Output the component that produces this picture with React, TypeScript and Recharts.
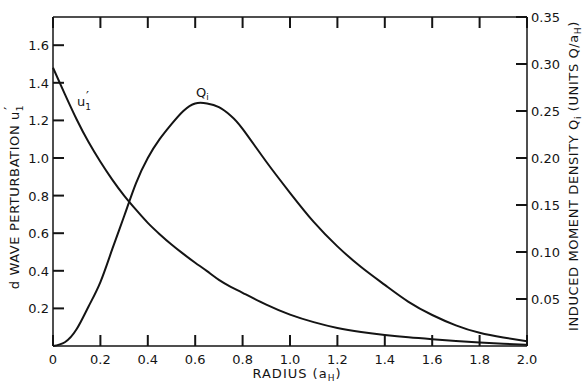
import { ComposedChart, Line, XAxis, YAxis } from 'recharts';

const radius = [0, 0.05, 0.1, 0.15, 0.2, 0.25, 0.3, 0.35, 0.4, 0.45, 0.5, 0.55, 0.6, 0.65, 0.7, 0.75, 0.8, 0.9, 1.0, 1.1, 1.2, 1.3, 1.4, 1.5, 1.6, 1.7, 1.8, 1.9, 2.0];
const uPerturbation = [1.48, 1.34, 1.205, 1.085, 0.98, 0.885, 0.8, 0.725, 0.655, 0.595, 0.54, 0.49, 0.443, 0.398, 0.352, 0.315, 0.283, 0.22, 0.167, 0.127, 0.096, 0.075, 0.059, 0.046, 0.036, 0.027, 0.019, 0.012, 0.006];
const qDensity = [0, 0.004, 0.018, 0.042, 0.068, 0.103, 0.138, 0.173, 0.2, 0.22, 0.236, 0.25, 0.258, 0.258, 0.254, 0.245, 0.231, 0.196, 0.163, 0.132, 0.106, 0.084, 0.065, 0.047, 0.033, 0.022, 0.014, 0.009, 0.005];

const xTicks = [0, 0.2, 0.4, 0.6, 0.8, 1.0, 1.2, 1.4, 1.6, 1.8, 2.0];
const leftTicks = [0.2, 0.4, 0.6, 0.8, 1.0, 1.2, 1.4, 1.6];
const rightTicks = [0.05, 0.1, 0.15, 0.2, 0.25, 0.3, 0.35];

const data = radius.map((r, i) => ({ r, u: uPerturbation[i], q: qDensity[i] }));

const FONT = '"DejaVu Sans", sans-serif';
const INK = '#141414';
const TICK_W = 2;

const fmtX = (v: number) => (v === 0 ? '0' : v.toFixed(1));

// tick marks point into the plot, labels stay outside
const BottomTick = (p: any) => {
  const x = Number(p.x), y = Number(p.y);
  return (
    <g>
      <path d={`M${x},${y - 7}V${y - 18}`} stroke={INK} strokeWidth={TICK_W} fill="none" />
      <text x={x} y={y + 11} textAnchor="middle" fontFamily={FONT} fontSize={13} fill={INK}>{fmtX(p.payload.value)}</text>
    </g>
  );
};

const TopTick = (p: any) => {
  const x = Number(p.x), y = Number(p.y);
  return <path d={`M${x},${y}V${y + 11}`} stroke={INK} strokeWidth={TICK_W} fill="none" />;
};

const LeftTick = (p: any) => {
  const x = Number(p.x), y = Number(p.y);
  return (
    <g>
      <path d={`M${x + 4},${y}H${x + 15}`} stroke={INK} strokeWidth={TICK_W} fill="none" />
      <text x={x} y={y + 5} textAnchor="end" fontFamily={FONT} fontSize={13} fill={INK}>{p.payload.value.toFixed(1)}</text>
    </g>
  );
};

const RightTick = (p: any) => {
  const x = Number(p.x), y = Number(p.y);
  return (
    <g>
      <path d={`M${x - 4},${y}H${x - 15}`} stroke={INK} strokeWidth={TICK_W} fill="none" />
      <text x={x} y={y + 5} textAnchor="start" fontFamily={FONT} fontSize={13} fill={INK}>{p.payload.value.toFixed(2)}</text>
    </g>
  );
};

const LeftTitle = () => (
  <text transform="translate(19,197) rotate(-90)" textAnchor="middle" fontFamily={FONT} fontSize={13} fill={INK} letterSpacing={0.6}>
    d WAVE PERTURBATION u<tspan fontSize={9} dy={4}>1</tspan><tspan dx={-5} dy={-10} fontSize={13}>′</tspan>
  </text>
);

const RightTitle = () => (
  <text transform="translate(578,176) rotate(-90)" textAnchor="middle" fontFamily={FONT} fontSize={13} fill={INK} letterSpacing={0.6}>
    INDUCED MOMENT DENSITY Q<tspan fontSize={9} dy={3}>i</tspan><tspan dy={-3}>  (UNITS Q/a</tspan><tspan fontSize={9} dy={3}>H</tspan><tspan dy={-3}>)</tspan>
  </text>
);

const BottomTitle = () => (
  <text x={297} y={378} textAnchor="middle" fontFamily={FONT} fontSize={13} fill={INK} letterSpacing={1}>
    RADIUS (a<tspan fontSize={9} dy={3}>H</tspan><tspan dy={-3}>)</tspan>
  </text>
);

export default function App() {
  return (
    <div style={{ position: 'absolute', left: 0, top: 0, background: '#fff' }}>
      <ComposedChart width={584} height={383} data={data} margin={{ top: 16, right: 0, bottom: 0, left: 0 }}>
        <XAxis dataKey="r" type="number" domain={[0, 2]} ticks={xTicks} height={37} tickSize={0} tickMargin={7} tickLine={false}
          tick={(p: any) => <BottomTick {...p} />} stroke={INK} strokeWidth={1.5} interval={0} label={<BottomTitle />} />
        <XAxis xAxisId="top" dataKey="r" type="number" orientation="top" domain={[0, 2]} ticks={xTicks} height={1} tickSize={0} tickMargin={0} tickLine={false}
          tick={(p: any) => <TopTick {...p} />} stroke={INK} strokeWidth={1.5} interval={0} />
        <YAxis yAxisId="u" type="number" domain={[0, 1.75]} ticks={leftTicks} width={53} tickSize={0} tickMargin={4} tickLine={false}
          tick={(p: any) => <LeftTick {...p} />} stroke={INK} strokeWidth={1.5} interval={0} label={<LeftTitle />} />
        <YAxis yAxisId="q" orientation="right" type="number" domain={[0, 0.35]} ticks={rightTicks} width={57} tickSize={0} tickMargin={4} tickLine={false}
          tick={(p: any) => <RightTick {...p} />} stroke={INK} strokeWidth={1.5} interval={0} label={<RightTitle />} />
        <Line yAxisId="u" dataKey="u" type="natural" stroke={INK} strokeWidth={2} dot={false} isAnimationActive={false}
          label={(p: any) => p.index === 3 ? (
            <text key="ul" x={77} y={106} fontFamily={FONT} fontSize={13} fill={INK}>
              u<tspan fontSize={9} dy={4}>1</tspan><tspan dx={-5} dy={-10} fontSize={13}>′</tspan>
            </text>
          ) : <g key={'u' + p.index} />}
        />
        <Line yAxisId="q" dataKey="q" type="natural" stroke={INK} strokeWidth={2} dot={false} isAnimationActive={false}
          label={(p: any) => p.index === 12 ? (
            <text key="ql" x={196} y={97} fontFamily={FONT} fontSize={13} fill={INK}>
              Q<tspan fontSize={9} dy={3}>i</tspan>
            </text>
          ) : <g key={'q' + p.index} />}
        />
      </ComposedChart>
    </div>
  );
}
